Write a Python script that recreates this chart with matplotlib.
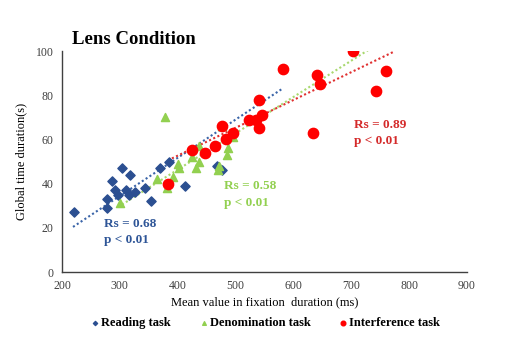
import numpy as np
import matplotlib
matplotlib.use("Agg")
import matplotlib.pyplot as plt

# Reading task (blue diamonds)
read_x = [220, 278, 278, 287, 292, 297, 304, 311, 316, 318, 327, 344, 354, 369, 385, 412, 468, 477]
read_y = [27, 29, 33, 41, 37, 35, 47, 37, 35, 44, 36, 38, 32, 47, 50, 39, 48, 46]

# Denomination task (green triangles)
den_x = [300, 365, 378, 381, 392, 400, 403, 424, 432, 436, 436, 470, 472, 477, 485, 487, 495]
den_y = [31, 42, 70, 38, 43, 49, 47, 52, 47, 50, 57, 46, 48, 66, 53, 56, 61]

# Interference task (red circles)
int_x = [383, 425, 447, 464, 477, 483, 496, 523, 535, 545, 540, 540, 582, 634, 641, 646, 703, 743, 760]
int_y = [40, 55, 54, 57, 66, 60, 63, 69, 69, 71, 65, 78, 92, 63, 89, 85, 100, 82, 91]

# trend line end points
read_trend_x = [219, 580]
read_trend_y = [20.4, 82.8]
den_trend_x = [297, 729]
den_trend_y = [29.4, 100.4]
int_trend_x = [390, 772]
int_trend_y = [51.4, 99.5]

blue = "#2B4F91"
green = "#92D050"
red = "#FF0000"

plt.rcParams["font.family"] = ["Liberation Serif", "DejaVu Serif"]

fig = plt.figure(figsize=(5.1, 3.55), dpi=100)
ax = fig.add_axes([0.1216, 0.2338, 0.7941, 0.6225])

ax.plot(read_trend_x, read_trend_y, linestyle=(0, (1, 1.2)), color="#3A64A8", linewidth=1.5)
ax.plot(den_trend_x, den_trend_y, linestyle=(0, (1, 1.2)), color="#A8D86E", linewidth=1.5)
ax.plot(int_trend_x, int_trend_y, linestyle=(0, (1, 1.2)), color="#E03030", linewidth=1.5)

ax.scatter(read_x, read_y, marker="D", s=22, color=blue, zorder=3, label="Reading task")
ax.scatter(den_x, den_y, marker="^", s=34, color=green, zorder=3, label="Denomination task")
ax.scatter(int_x, int_y, marker="o", s=55, color=red, zorder=4, label="Interference task")

ax.text(272, 18, "Rs = 0.68\np < 0.01", color="#2E5597", fontsize=9.5, fontweight="bold",
        va="center", linespacing=1.5)
ax.text(480, 35, "Rs = 0.58\np < 0.01", color=green, fontsize=9.5, fontweight="bold",
        va="center", linespacing=1.5)
ax.text(705, 63, "Rs = 0.89\np < 0.01", color="#D42A2A", fontsize=9.5, fontweight="bold",
        va="center", linespacing=1.5)

ax.set_xlim(200, 900)
ax.set_ylim(0, 100)
ax.set_xticks(range(200, 901, 100))
ax.set_yticks(range(0, 101, 20))
ax.tick_params(length=0, labelsize=8.5, labelcolor="#404040", pad=6)
for s in ["top", "right"]:
    ax.spines[s].set_visible(False)
for s in ["left", "bottom"]:
    ax.spines[s].set_color("#404040")
    ax.spines[s].set_linewidth(1.0)

ax.set_xlabel("Mean value in fixation  duration (ms)", fontsize=9, labelpad=3)
ax.set_ylabel("Global time duration(s)", fontsize=9, labelpad=6)

fig.text(0.141, 0.875, "Lens Condition", fontsize=13.5, fontweight="bold")

leg = fig.legend(loc="center", bbox_to_anchor=(0.52, 0.09), ncol=3, frameon=False,
                 prop={"weight": "bold", "size": 9}, handletextpad=0.1, columnspacing=2.2,
                 markerscale=0.45, handlelength=0.8)

fig.savefig("out.png", dpi=100)
